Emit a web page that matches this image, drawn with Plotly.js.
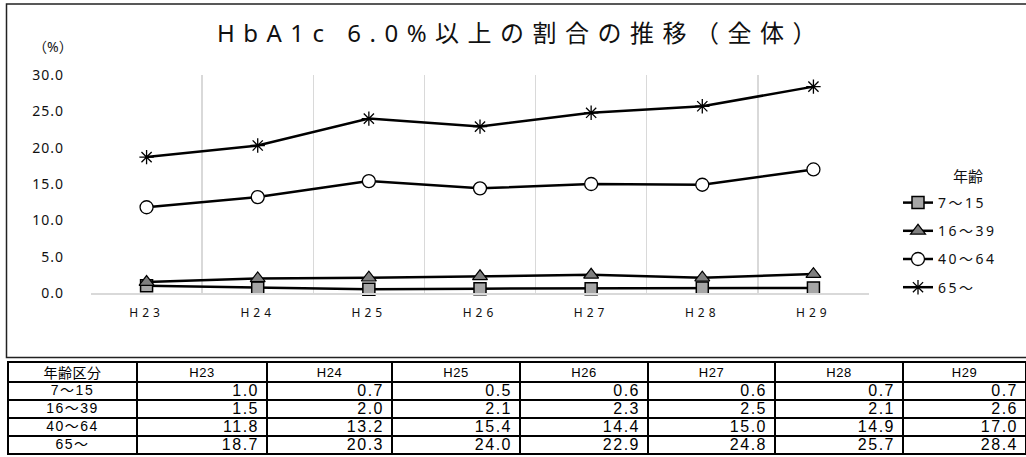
<!DOCTYPE html>
<html>
<head>
<meta charset="utf-8">
<script src="https://cdn.plot.ly/plotly-3.0.1.min.js"></script>
<style>
  html, body { margin: 0; padding: 0; background: #fff; }
  #chart .gtitle { letter-spacing: 8.5px; }
  #chart .xtick text { letter-spacing: 4px; }
  #chart .ytick text { letter-spacing: 1px; }
  #chart .legendtext { letter-spacing: 2.5px; }
  #chart .legend .scrollbox, #chart .legend { clip-path: none !important; }
  #chart .cell-text { transform: translateY(-6px); letter-spacing: 1.5px; }
  #chart #header .cell-text,
  #chart .y-column > .column-block:last-child .cell-text { transform: translateY(-3px); letter-spacing: 0.5px; }
</style>
</head>
<body>
<div id="chart" style="width:1026px;height:457px;"></div>
<script>
// ---- data ----
const years = ['H23', 'H24', 'H25', 'H26', 'H27', 'H28', 'H29'];
const ageGroups = ['7～15', '16～39', '40～64', '65～'];
const age7to15 = [1.0, 0.7, 0.5, 0.6, 0.6, 0.7, 0.7];
const age16to39 = [1.5, 2.0, 2.1, 2.3, 2.5, 2.1, 2.6];
const age40to64 = [11.8, 13.2, 15.4, 14.4, 15.0, 14.9, 17.0];
const age65plus = [18.7, 20.3, 24.0, 22.9, 24.8, 25.7, 28.4];
const tableHeaderLabel = '年齢区分';
const legendTitle = '年齢';
const chartTitle = 'HbA1c 6.0%以上の割合の推移（全体）';
const yUnit = '（%）';

// ---- layout helpers ----
const W = 1026, H = 457;
const px = v => v / W;
const py = v => 1 - v / H;

const series = [age7to15, age16to39, age40to64, age65plus];
const markerStyles = [
  {symbol: 'square', size: 12, color: '#a6a6a6', line: {color: '#000', width: 1.5}},
  {symbol: 'triangle-up', size: 13, color: '#7f7f7f', line: {color: '#000', width: 1.2}},
  {symbol: 'circle', size: 13, color: '#ffffff', line: {color: '#000', width: 1.3}},
  {symbol: 'asterisk-open', size: 12, color: '#000', line: {color: '#000', width: 1.3}}
];

const font = 'Noto Sans, Noto Sans CJK JP, sans-serif';
const tFont = 'Liberation Sans, Noto Sans CJK JP, sans-serif';

const traces = series.map((vals, i) => ({
  type: 'scatter',
  mode: 'lines+markers',
  x: years,
  y: vals,
  name: ageGroups[i],
  legendgroup: 'g' + i,
  line: {color: '#000', width: 2.5},
  marker: markerStyles[i],
  cliponaxis: false,
  hoverinfo: 'skip'
}));

// table trace
const headerVals = [tableHeaderLabel].concat(years);
const cellCols = [ageGroups].concat(years.map((y, j) => series.map(s => s[j].toFixed(1))));
traces.push({
  type: 'table',
  domain: {x: [px(8), 1], y: [0, py(362)]},
  columnwidth: [129, 130, 125, 128, 128, 127, 128, 123],
  header: {
    values: headerVals,
    align: 'center',
    height: 20,
    line: {color: '#000', width: 1.6},
    fill: {color: '#fff'},
    font: {family: tFont, size: [14, 13, 13, 13, 13, 13, 13, 13], color: '#000'}
  },
  cells: {
    values: cellCols,
    align: ['center', 'right', 'right', 'right', 'right', 'right', 'right', 'right'],
    height: 18,
    line: {color: '#000', width: 1.6},
    fill: {color: '#fff'},
    font: {family: tFont, size: [14, 16, 16, 16, 16, 16, 16, 16], color: '#000'}
  }
});

const layout = {
  width: W, height: H,
  margin: {l: 0, r: 0, t: 0, b: 0},
  paper_bgcolor: '#fff',
  plot_bgcolor: '#fff',
  font: {family: font, color: '#111'},
  showlegend: true,
  title: {
    text: chartTitle,
    x: px(521), xref: 'paper', xanchor: 'center',
    y: py(34), yref: 'paper', yanchor: 'middle',
    font: {family: font, size: 24, color: '#111'}
  },
  xaxis: {
    domain: [px(91), px(869)],
    type: 'category',
    range: [-0.5, 6.5],
    tickson: 'boundaries',
    showgrid: true,
    gridcolor: '#d9d9d9',
    gridwidth: 1.5,
    showline: true,
    linecolor: '#d9d9d9',
    linewidth: 1.5,
    ticks: '',
    ticklabelstandoff: 8,
    tickfont: {family: font, size: 12, color: '#111'},
    fixedrange: true
  },
  yaxis: {
    domain: [py(293), py(75)],
    range: [0, 30],
    dtick: 5,
    tickformat: '.1f',
    showgrid: false,
    zeroline: false,
    showline: false,
    ticks: '',
    ticklabelstandoff: 26,
    tickfont: {family: font, size: 14, color: '#111'},
    fixedrange: true
  },
  legend: {
    x: px(898), xanchor: 'left',
    y: py(187), yanchor: 'top',
    font: {family: font, size: 14, color: '#111'},
    tracegroupgap: 7,
    itemwidth: 30,
    bgcolor: 'rgba(0,0,0,0)'
  },
  annotations: [{
    text: yUnit,
    xref: 'paper', yref: 'paper',
    x: px(53), y: py(46),
    xanchor: 'center', yanchor: 'middle',
    showarrow: false,
    font: {family: font, size: 14, color: '#111'}
  }, {
    text: legendTitle,
    xref: 'paper', yref: 'paper',
    x: px(968), y: py(176),
    xanchor: 'center', yanchor: 'middle',
    showarrow: false,
    font: {family: font, size: 15, color: '#111'}
  }],
  shapes: [{
    type: 'rect', xref: 'paper', yref: 'paper',
    x0: px(6.5), x1: px(1040), y0: py(357.5), y1: py(4),
    line: {color: '#222', width: 1.5},
    fillcolor: 'rgba(0,0,0,0)',
    layer: 'below'
  }]
};

Plotly.newPlot('chart', traces, layout, {staticPlot: true, displayModeBar: false});
</script>
</body>
</html>
